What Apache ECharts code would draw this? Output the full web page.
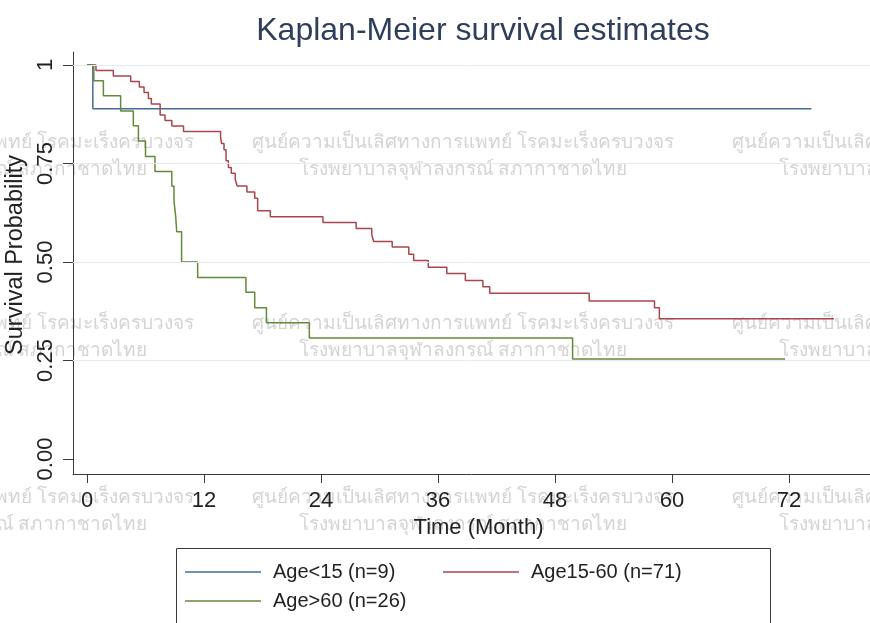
<!DOCTYPE html>
<html>
<head>
<meta charset="utf-8">
<script src="https://cdn.jsdelivr.net/npm/echarts@6/dist/echarts.min.js"></script>
<style>
  html, body { margin: 0; padding: 0; background: #fff; }
  #main { width: 870px; height: 623px; }
</style>
</head>
<body>
<div id="main"></div>
<script>
// Kaplan-Meier curves (time in months, survival)
var ageLow_t = [0, 0.6, 74.3];
var ageLow_s = [1, 0.889, 0.889];

var ageMid_t = [0, 0.92, 2.7, 4.48, 5.37, 5.85, 6.3, 6.6, 7.5, 8.0, 8.7, 9.9,
  13.7, 13.8, 14.05, 14.26, 14.5, 14.8, 15.2, 15.4, 16.4, 17.2, 17.5, 18.8,
  24.2, 27.6, 29.2, 29.4, 31.3, 33.0, 33.5, 35.0, 36.9, 38.8, 40.6, 41.3,
  51.5, 58.2, 58.7, 76.6];
var ageMid_s = [1, 0.986, 0.972, 0.958, 0.944, 0.930, 0.915, 0.901, 0.873, 0.859, 0.845, 0.831,
  0.817, 0.801, 0.785, 0.757, 0.740, 0.725, 0.710, 0.693, 0.678, 0.662, 0.630, 0.615,
  0.600, 0.585, 0.569, 0.552, 0.538, 0.520, 0.504, 0.487, 0.471, 0.453, 0.437, 0.421,
  0.401, 0.384, 0.356, 0.356];

var ageHigh_t = [0, 0.7, 1.68, 3.45, 4.75, 5.27, 6.0, 6.97, 8.7, 8.92, 9.1, 9.2, 9.7,
  11.35, 16.3, 17.2, 18.4, 22.8, 49.8, 71.6];
var ageHigh_s = [1, 0.960, 0.922, 0.883, 0.846, 0.807, 0.768, 0.730, 0.692, 0.654, 0.615, 0.577, 0.500,
  0.461, 0.423, 0.384, 0.346, 0.307, 0.254, 0.254];

var groupNames = ['Age<15 (n=9)', 'Age15-60 (n=71)', 'Age>60 (n=26)'];
var groupColors = ['#436d94', '#a9454d', '#628a3b'];

var xTicks = [0, 12, 24, 36, 48, 60, 72];
var yTicks = [0, 0.25, 0.5, 0.75, 1];
var yGrid = [0.25, 0.5, 0.75, 1];

var wmLine1 = 'ศูนย์ความเป็นเลิศทางการแพทย์ โรคมะเร็งครบวงจร';
var wmLine2 = 'โรงพยาบาลจุฬาลงกรณ์ สภากาชาดไทย';

function pairs(t, s) {
  var out = [];
  for (var i = 0; i < t.length; i++) out.push([t[i], s[i]]);
  return out;
}

var FONT = '"Liberation Sans", Arial, sans-serif';

// watermark text blocks
var wm = [];
var wmCols = [-17, 463, 943];
var wmRows = [143, 324, 498];
for (var r = 0; r < wmRows.length; r++) {
  for (var c = 0; c < wmCols.length; c++) {
    wm.push({
      type: 'text', z: 0, silent: true,
      style: { text: wmLine1, x: wmCols[c], y: wmRows[r], align: 'center', verticalAlign: 'middle',
        fill: '#d4d4d4', font: '19px "Noto Sans", "DejaVu Sans", sans-serif' }
    });
    wm.push({
      type: 'text', z: 0, silent: true,
      style: { text: wmLine2, x: wmCols[c], y: wmRows[r] + 27, align: 'center', verticalAlign: 'middle',
        fill: '#d4d4d4', font: '19px "Noto Sans", "DejaVu Sans", sans-serif' }
    });
  }
}

var chart = echarts.init(document.getElementById('main'));

var legendBase = {
  orient: 'horizontal', padding: 0, itemGap: 0,
  icon: 'rect', itemWidth: 76, itemHeight: 1.5,
  textStyle: { fontFamily: FONT, fontSize: 20, color: '#222', padding: [0, 0, 0, 7] },
  selectedMode: false
};

chart.setOption({
  animation: false,
  backgroundColor: '#fff',
  title: {
    text: 'Kaplan-Meier survival estimates',
    left: 478, top: 10, textAlign: 'center',
    textStyle: { fontFamily: FONT, fontSize: 32, fontWeight: 'normal', color: '#2f3e5b' }
  },
  legend: [
    Object.assign({}, legendBase, { data: [groupNames[0]], left: 185, top: 562 }),
    Object.assign({}, legendBase, { data: [groupNames[1]], left: 443, top: 562 }),
    Object.assign({}, legendBase, { data: [groupNames[2]], left: 185, top: 591 })
  ],
  grid: { left: 73, right: 0, top: 52, bottom: 149, containLabel: false, outerBoundsMode: 'none' },
  xAxis: {
    type: 'value', min: -1.436, max: 80.3,
    name: 'Time (Month)', nameLocation: 'middle', nameGap: 33,
    nameTextStyle: { fontFamily: FONT, fontSize: 22, color: '#222', padding: [0, 0, 0, 14] },
    axisLine: { onZero: false, lineStyle: { color: '#3a3a3a', width: 1 } },
    axisTick: { show: true, inside: false, length: 9, customValues: xTicks, lineStyle: { color: '#3a3a3a' } },
    axisLabel: { customValues: xTicks, margin: 16, fontFamily: FONT, fontSize: 22, color: '#222' },
    splitLine: { show: false }
  },
  yAxis: {
    type: 'value', min: -0.038, max: 1.033,
    name: 'Survival Probability', nameLocation: 'middle', nameGap: 28, nameRotate: 90,
    nameTextStyle: { fontFamily: FONT, fontSize: 23.5, color: '#222', padding: [0, 0, 0, 16] },
    axisLine: { show: true, onZero: false, lineStyle: { color: '#3a3a3a', width: 1 } },
    axisTick: { show: true, inside: false, length: 10, customValues: yTicks, lineStyle: { color: '#3a3a3a' } },
    axisLabel: {
      customValues: yTicks, rotate: 90, margin: 16, fontFamily: FONT, fontSize: 22, color: '#222',
      formatter: function (v) { return v === 1 ? '1' : v.toFixed(2); }
    },
    splitLine: { show: false }
  },
  graphic: wm.concat([
    {
      type: 'rect', z: 10, silent: true,
      shape: { x: 176.5, y: 548.5, width: 594, height: 100 },
      style: { fill: 'none', stroke: '#3a3a3a', lineWidth: 1 }
    }
  ]),
  series: [
    {
      name: 'grid', type: 'line', data: [], z: 1, silent: true,
      markLine: {
        silent: true, symbol: 'none', label: { show: false },
        lineStyle: { color: '#e3ebee', width: 1, type: 'solid' },
        data: yGrid.map(function (v) { return { yAxis: v }; })
      }
    },
    {
      name: groupNames[0], type: 'line', step: 'end', showSymbol: false, symbol: 'none', z: 3,
      color: groupColors[0], lineStyle: { width: 1.5, color: groupColors[0] },
      data: pairs(ageLow_t, ageLow_s)
    },
    {
      name: groupNames[1], type: 'line', step: 'end', showSymbol: false, symbol: 'none', z: 3,
      color: groupColors[1], lineStyle: { width: 1.5, color: groupColors[1] },
      data: pairs(ageMid_t, ageMid_s)
    },
    {
      name: groupNames[2], type: 'line', step: 'end', showSymbol: false, symbol: 'none', z: 3,
      color: groupColors[2], lineStyle: { width: 1.5, color: groupColors[2] },
      data: pairs(ageHigh_t, ageHigh_s)
    }
  ]
});
</script>
</body>
</html>
